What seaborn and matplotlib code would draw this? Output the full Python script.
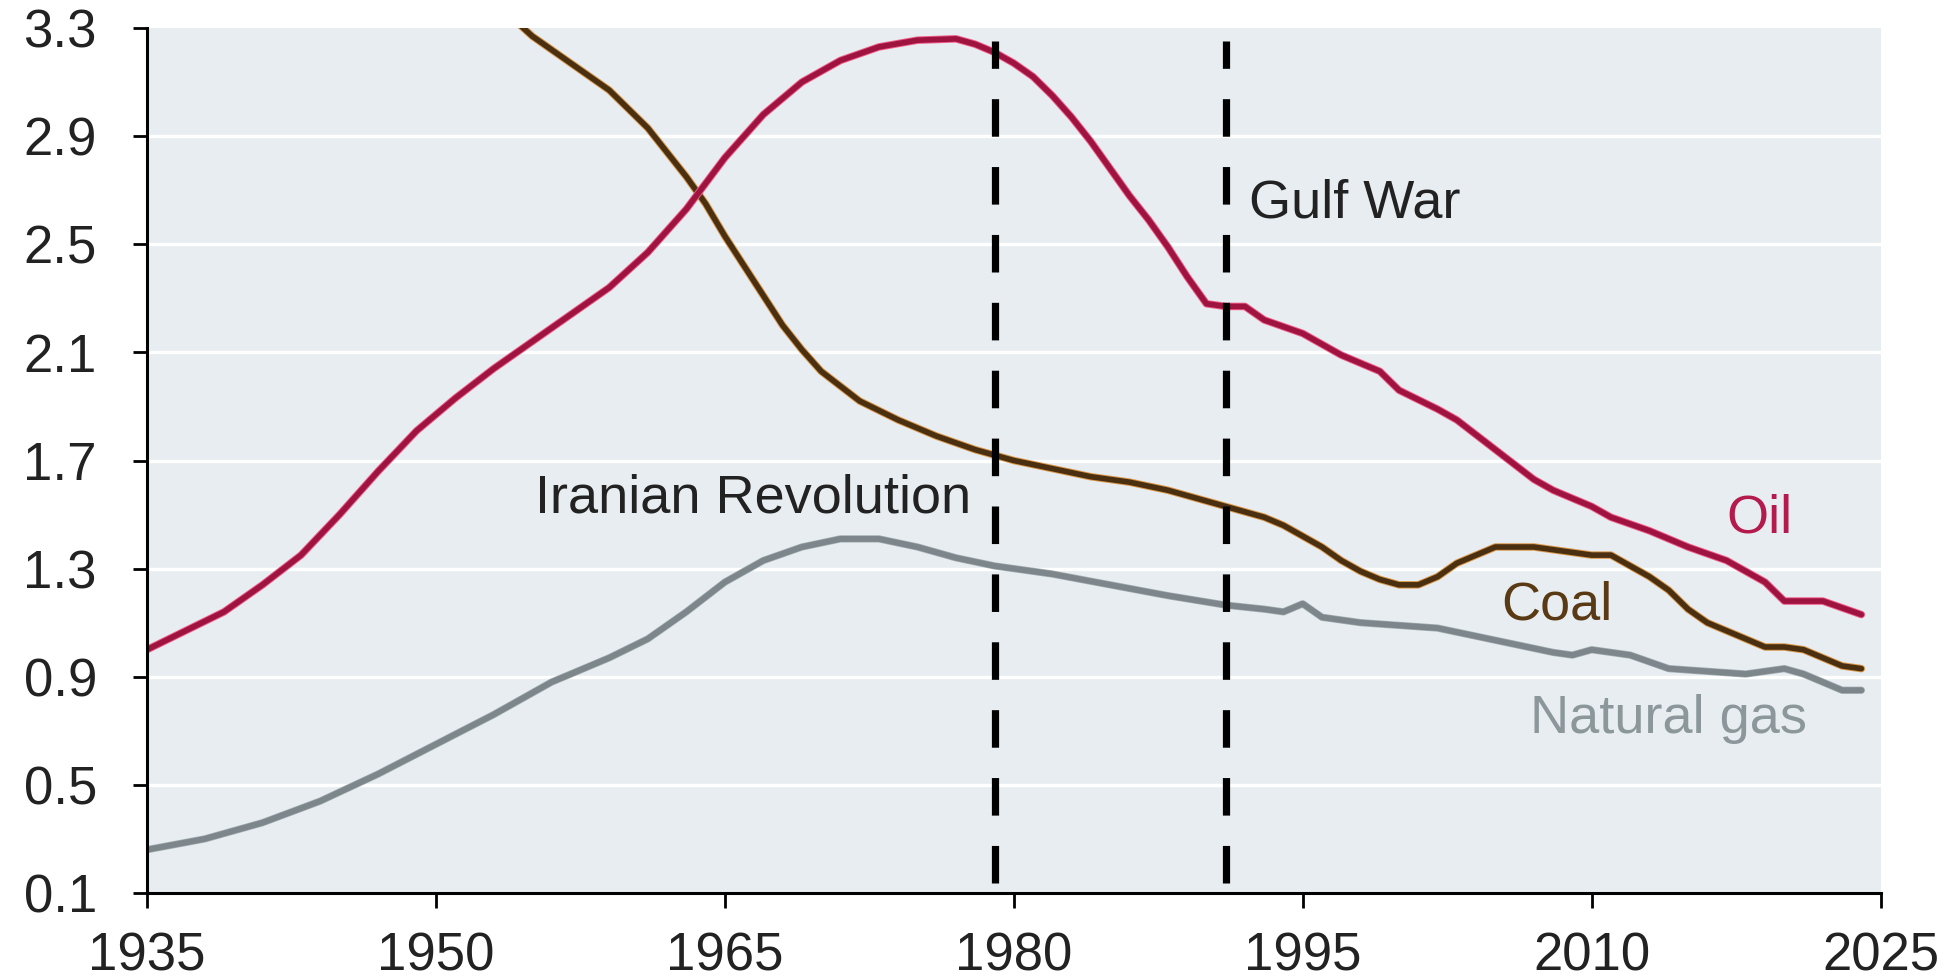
import matplotlib
matplotlib.use("Agg")
import matplotlib.pyplot as plt
import matplotlib.patheffects as pe
import seaborn as sns

# Values
oil_years = [1935, 1937, 1939, 1941, 1943, 1945, 1947, 1949, 1951, 1953, 1955, 1957, 1959,
             1961, 1963, 1965, 1967, 1969, 1971, 1973, 1975, 1977, 1978, 1979, 1980, 1981,
             1982, 1983, 1984, 1985, 1986, 1987, 1988, 1989, 1990, 1991, 1992, 1993, 1995,
             1997, 1999, 2000, 2002, 2003, 2005, 2007, 2008, 2010, 2011, 2013, 2015, 2017,
             2019, 2020, 2022, 2024]
oil_vals = [1.00, 1.07, 1.14, 1.24, 1.35, 1.50, 1.66, 1.81, 1.93, 2.04, 2.14, 2.24, 2.34,
            2.47, 2.63, 2.82, 2.98, 3.10, 3.18, 3.23, 3.255, 3.26, 3.24, 3.21, 3.17, 3.12,
            3.05, 2.97, 2.88, 2.78, 2.68, 2.59, 2.49, 2.38, 2.28, 2.27, 2.27, 2.22, 2.17,
            2.09, 2.03, 1.96, 1.89, 1.85, 1.74, 1.63, 1.59, 1.53, 1.49, 1.44, 1.38, 1.33,
            1.25, 1.18, 1.18, 1.13]

coal_years = [1953, 1955, 1957, 1959, 1961, 1963, 1964, 1965, 1966, 1967, 1968, 1969, 1970,
              1972, 1974, 1976, 1978, 1980, 1982, 1984, 1986, 1988, 1990, 1991, 1992, 1993,
              1994, 1995, 1996, 1997, 1998, 1999, 2000, 2001, 2002, 2003, 2004, 2005, 2006,
              2007, 2008, 2009, 2010, 2011, 2012, 2013, 2014, 2015, 2016, 2017, 2018, 2019,
              2020, 2021, 2022, 2023, 2024]
coal_vals = [3.40, 3.27, 3.17, 3.07, 2.93, 2.75, 2.65, 2.53, 2.42, 2.31, 2.20, 2.11, 2.03,
             1.92, 1.85, 1.79, 1.74, 1.70, 1.67, 1.64, 1.62, 1.59, 1.55, 1.53, 1.51, 1.49,
             1.46, 1.42, 1.38, 1.33, 1.29, 1.26, 1.24, 1.24, 1.27, 1.32, 1.35, 1.38, 1.38,
             1.38, 1.37, 1.36, 1.35, 1.35, 1.31, 1.27, 1.22, 1.15, 1.10, 1.07, 1.04, 1.01,
             1.01, 1.00, 0.97, 0.94, 0.93]

gas_years = [1935, 1938, 1941, 1944, 1947, 1950, 1953, 1956, 1959, 1961, 1963, 1965, 1967,
             1969, 1971, 1973, 1975, 1977, 1979, 1982, 1985, 1988, 1991, 1993, 1994, 1995,
             1996, 1998, 2000, 2002, 2004, 2006, 2008, 2009, 2010, 2011, 2012, 2014, 2016,
             2018, 2019, 2020, 2021, 2022, 2023, 2024]
gas_vals = [0.26, 0.30, 0.36, 0.44, 0.54, 0.65, 0.76, 0.88, 0.97, 1.04, 1.14, 1.25, 1.33,
            1.38, 1.41, 1.41, 1.38, 1.34, 1.31, 1.28, 1.24, 1.20, 1.165, 1.15, 1.14, 1.17,
            1.12, 1.10, 1.09, 1.08, 1.05, 1.02, 0.99, 0.98, 1.00, 0.99, 0.98, 0.93, 0.92,
            0.91, 0.92, 0.93, 0.91, 0.88, 0.85, 0.85]

x_ticks = [1935, 1950, 1965, 1980, 1995, 2010, 2025]
y_ticks = [0.1, 0.5, 0.9, 1.3, 1.7, 2.1, 2.5, 2.9, 3.3]
events = [(1979, "Iranian Revolution"), (1991, "Gulf War")]

sns.set_style("white", {"axes.facecolor": "#E7EDF0"})
plt.rcParams["font.family"] = ["Liberation Sans", "DejaVu Sans"]

fig = plt.figure(figsize=(19.59, 9.8), dpi=100)
ax = fig.add_axes([0.075, 0.0888, 0.885, 0.8826])

# white horizontal grid
for yv in y_ticks[1:-1]:
    ax.axhline(yv, color="white", lw=2.4, zorder=0)

sns.lineplot(x=gas_years, y=gas_vals, color="#7D878B", linewidth=4.2, ax=ax,
             path_effects=[pe.Stroke(linewidth=5.2, foreground="#A3ADB1"), pe.Normal()])
sns.lineplot(x=coal_years, y=coal_vals, color="#4A2F10", linewidth=4.0, ax=ax,
             path_effects=[pe.Stroke(linewidth=5.4, foreground="#D9964A"), pe.Normal()])
sns.lineplot(x=oil_years, y=oil_vals, color="#9E1340", linewidth=4.0, ax=ax,
             path_effects=[pe.Stroke(linewidth=5.4, foreground="#EE5A85"), pe.Normal()])

for yr, _ in events:
    ax.axvline(yr, ymin=0.012, ymax=0.985, color="black", lw=5.2, dashes=(5.2, 4.2), zorder=5)

fs = 39
ax.text(1977.8, 1.509, "Iranian Revolution", fontsize=fs, color="#222222", ha="right", va="baseline")
ax.text(1992.2, 2.60, "Gulf War", fontsize=fs, color="#222222", ha="left", va="baseline")
ax.text(2017.0, 1.432, "Oil", fontsize=fs, color="#B51A4C", ha="left", va="baseline")
ax.text(2005.3, 1.110, "Coal", fontsize=fs, color="#5A3A14", ha="left", va="baseline")
ax.text(2006.8, 0.692, "Natural gas", fontsize=fs, color="#8C979B", ha="left", va="baseline")

ax.set_xlim(1935, 2025)
ax.set_ylim(0.1, 3.3)
ax.set_xticks(x_ticks)
ax.set_yticks(y_ticks)
ax.set_yticklabels([f"{v:.1f}" for v in y_ticks])
ax.set_xlabel("")
ax.set_ylabel("")

for side in ["top", "right"]:
    ax.spines[side].set_visible(False)
for side in ["left", "bottom"]:
    ax.spines[side].set_color("black")
    ax.spines[side].set_linewidth(2.2)

ax.tick_params(axis="y", direction="out", length=10, width=2, colors="black",
               labelsize=38, pad=26, left=True)
ax.tick_params(axis="x", direction="out", length=11, width=2, colors="black",
               labelsize=38, pad=17, bottom=True)
for lab in ax.get_xticklabels() + ax.get_yticklabels():
    lab.set_color("#222222")

fig.savefig("out.png", dpi=100, facecolor="white")
